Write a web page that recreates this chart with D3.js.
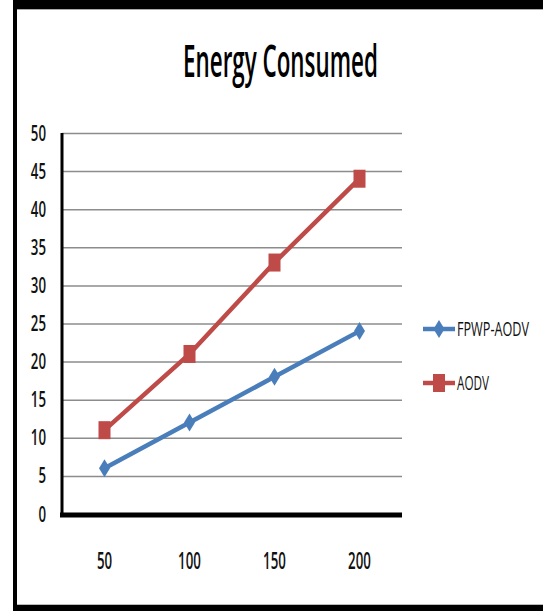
<!DOCTYPE html>
<html><head><meta charset="utf-8">
<script src="https://cdn.jsdelivr.net/npm/d3@7"></script>
<style>
html,body{margin:0;padding:0;background:#fff;}
text{font-family:"Open Sans",sans-serif;}
</style></head>
<body><svg id="c" width="543" height="611"></svg>
<script>
const categories = ["50","100","150","200"];
const fpwp = [6,12,18,24];
const aodv = [11,21,33,44];
const yTicks = [0,5,10,15,20,25,30,35,40,45,50];
const seriesNames = ["FPWP-AODV","AODV"];
const colors = ["#4a7ebb","#be4b48"];

(function(){
const svg = d3.select("#c");
// condensed text: draw at natural width, then squeeze horizontally to target width
function squeezed(parent, ax, ay, anchor, target, size, weight, str){
  const g = parent.append("g");
  const t = g.append("text").attr("font-size",size).attr("font-weight",weight).attr("fill","#111").text(str);
  const w = t.node().getComputedTextLength();
  const s = target / w;
  const x0 = anchor==="end" ? ax - target : anchor==="middle" ? ax - target/2 : ax;
  g.attr("transform",`translate(${x0},${ay}) scale(${s},1)`);
  return t;
}
// frame
svg.append("rect").attr("x",13).attr("y",0).attr("width",530).attr("height",9).attr("fill","#000");
svg.append("rect").attr("x",13).attr("y",0).attr("width",4).attr("height",611).attr("fill","#000");
svg.append("rect").attr("x",13).attr("y",605).attr("width",530).attr("height",6).attr("fill","#000");
svg.append("line").attr("x1",17).attr("x2",543).attr("y1",9.5).attr("y2",9.5).attr("stroke","#aaa").attr("stroke-width",1);
svg.append("line").attr("x1",17).attr("x2",543).attr("y1",604.5).attr("y2",604.5).attr("stroke","#bbb").attr("stroke-width",1);

const pL=62, pR=402, pT=133, pB=514;
const x = d3.scaleBand().domain(categories).range([pL,pR]);
const y = d3.scaleLinear().domain([0,50]).range([pB,pT]);
const digitW = 7.6;

squeezed(svg,183,77,"start",195,45,600,"Energy Consumed").attr("fill","#000");

// grid
const grid = svg.append("g").attr("transform",`translate(${pL},0)`)
  .call(d3.axisLeft(y).tickValues(yTicks.filter(v=>v>0)).tickSize(-(pR-pL)).tickFormat(""));
grid.select(".domain").remove();
grid.selectAll(".tick line").attr("stroke","#8c8c8c").attr("stroke-width",1.5);

// y labels (axis for positions, squeezed text for glyphs)
const yax = svg.append("g").attr("transform",`translate(${pL},0)`)
  .call(d3.axisLeft(y).tickValues(yTicks).tickSize(0).tickFormat(""));
yax.select(".domain").remove();
yTicks.forEach(v=>{
  squeezed(svg,46,y(v)+7.5,"end",String(v).length*digitW,22,600,String(v));
});

// x labels
const xax = svg.append("g").attr("transform",`translate(0,${pB})`)
  .call(d3.axisBottom(x).tickSize(0).tickFormat(""));
xax.select(".domain").remove();
categories.forEach(c=>{
  squeezed(svg,x(c)+x.bandwidth()/2,569,"middle",c.length*digitW,23,600,c);
});

// axes lines
svg.append("line").attr("x1",pL).attr("x2",pL).attr("y1",pT).attr("y2",pB+2).attr("stroke","#000").attr("stroke-width",3);
svg.append("line").attr("x1",pL-2).attr("x2",pR).attr("y1",pB+1).attr("y2",pB+1).attr("stroke","#000").attr("stroke-width",5);

const cx = i => x(categories[i])+x.bandwidth()/2;
const line = d3.line().x((d,i)=>cx(i)).y(d=>y(d));
[fpwp,aodv].forEach((s,k)=>{
  svg.append("path").datum(s).attr("d",line).attr("fill","none").attr("stroke",colors[k]).attr("stroke-width",4.5);
});
function diamond(g,px,py,c){
  g.append("path").attr("d",`M${px},${py-9}L${px+5.5},${py}L${px},${py+9}L${px-5.5},${py}Z`).attr("fill",c);
}
function square(g,px,py,c){
  g.append("rect").attr("x",px-6).attr("y",py-9).attr("width",12).attr("height",18).attr("fill",c);
}
fpwp.forEach((v,i)=>diamond(svg,cx(i),y(v),colors[0]));
aodv.forEach((v,i)=>square(svg,cx(i),y(v),colors[1]));

// legend
const lg=[329,383];
const lw=[72,32];
seriesNames.forEach((n,k)=>{
  svg.append("line").attr("x1",423).attr("x2",455).attr("y1",lg[k]).attr("y2",lg[k]).attr("stroke",colors[k]).attr("stroke-width",4.5);
  if(k===0) diamond(svg,439,lg[k],colors[0]); else square(svg,439,lg[k],colors[1]);
  squeezed(svg,457,lg[k]+7,"start",lw[k],20,500,n);
});
})();
</script></body></html>
